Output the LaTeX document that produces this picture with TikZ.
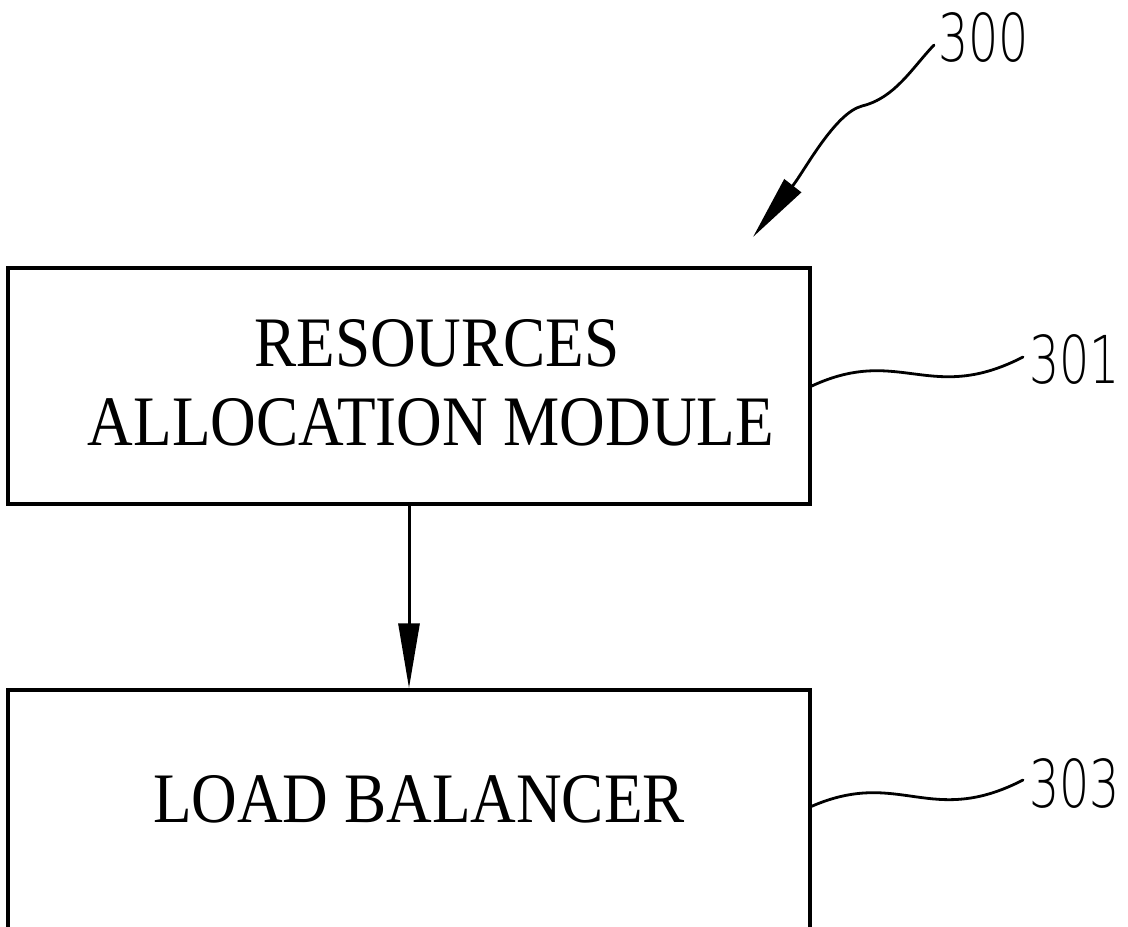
\documentclass[tikz,border=0pt]{standalone}
\usepackage{fontspec}
\usetikzlibrary{arrows.meta}
\newfontfamily\boxfont{Liberation Serif}[FakeStretch=0.89]
\newfontfamily\numfont{DejaVu Sans ExtraLight}[FakeStretch=0.72]
\begin{document}
\begin{tikzpicture}[x=1pt,y=-1pt,
  blockbox/.style={draw=black, line width=3.5pt, rectangle, inner sep=0pt, minimum width=802pt},
  blocktext/.style={anchor=base, inner sep=0pt, font=\boxfont\fontsize{71}{79}\selectfont},
  reftext/.style={anchor=base west, inner sep=0pt, font=\numfont\fontsize{66}{70}\selectfont},
  leader/.style={line width=2.8pt, line cap=round},
  bigtip/.style={-{Triangle[length=65pt,width=21pt]}}]
\useasboundingbox (0,0) rectangle (1128,927);
\fill[white] (0,0) rectangle (1128,927);
\clip (0,0) rectangle (1128,927);

% boxes
\node[blockbox, minimum height=236pt] (ram) at (409,386) {};
\node[blockbox, minimum height=410pt] (lb) at (409,895) {};

% box texts
\node[blocktext] (t1) at (437,366) {RESOURCES};
\node[blocktext] (t2) at (431,445) {ALLOCATION MODULE};
\node[blocktext] (t3) at (419,822) {LOAD BALANCER};

% connector between boxes
\draw[line width=3pt, bigtip] (ram.south) -- (lb.north);

% reference numerals
\node[reftext] (n300) at (938,61) {300};
\node[reftext] (n301) at (1029,383) {301};
\node[reftext] (n303) at (1029,807) {303};

% leader for 300
\coordinate (s300) at (934,45);
\coordinate (tip300) at (753,237);
\draw[leader, bigtip] (s300) .. controls (912,68) and (895,98) .. (862,106)
  .. controls (835,113) and (805,170) .. (tip300);

% leader for 301
\coordinate (e301) at (1023,357);
\draw[leader] (ram.east) .. controls (900,345) and (930,405) .. (e301);

% leader for 303
\coordinate (e303) at (1023,780);
\draw[leader] ([yshift=-118pt]lb.north east) .. controls (900,768) and (930,828) .. (e303);
\end{tikzpicture}
\end{document}
